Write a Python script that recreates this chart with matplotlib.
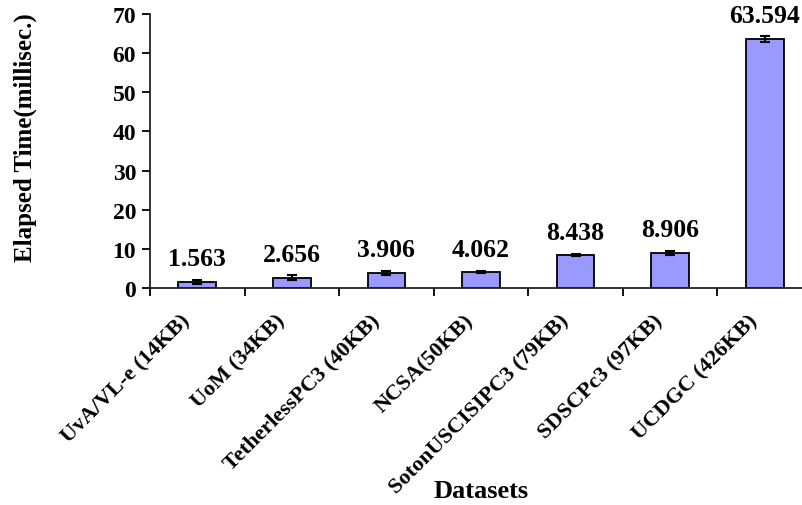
import matplotlib
matplotlib.use("Agg")
import matplotlib.pyplot as plt
import matplotlib.transforms as mtransforms
import numpy as np

categories = ["UvA/VL-e (14KB)", "UoM (34KB)", "TetherlessPC3 (40KB)", "NCSA(50KB)",
              "SotonUSCISIPC3 (79KB)", "SDSCPc3 (97KB)", "UCDGC (426KB)"]
values = [1.563, 2.656, 3.906, 4.062, 8.438, 8.906, 63.594]
errors = [0.6, 0.6, 0.5, 0.3, 0.3, 0.5, 0.7]
value_labels = ["1.563", "2.656", "3.906", "4.062", "8.438", "8.906", "63.594"]
yticks = [0, 10, 20, 30, 40, 50, 60, 70]

plt.rcParams['font.family'] = ['Liberation Serif', 'DejaVu Serif']
plt.rcParams['font.weight'] = 'bold'

W, H = 803, 506
fig = plt.figure(figsize=(W/100, H/100), dpi=100)
left, right, top, bottom = 150, 812, 15, 289
ax = fig.add_axes([left/W, 1-bottom/H, (right-left)/W, (bottom-top)/H])

x = np.arange(len(categories))
ax.bar(x, values, width=0.40, color='#9999FF', edgecolor='black', linewidth=1.3, zorder=2)
ax.errorbar(x, values, yerr=errors, fmt='none', ecolor='black', elinewidth=1.5,
            capsize=3.8, capthick=1.5, zorder=3)

for xi, v, e, lab in zip(x, values, errors, value_labels):
    ax.annotate(lab, (xi, v+e), xytext=(0, 7), textcoords='offset points',
                ha='center', va='bottom', fontsize=18.5, fontweight='bold')

ax.set_xlim(-0.5, len(categories)-0.5)
ax.set_ylim(0, 70)
ax.set_yticks(yticks)
ax.set_yticklabels([str(t) for t in yticks], fontsize=17, fontweight='bold')
ax.tick_params(axis='y', direction='out', length=6, width=1.3, pad=4)

ax.set_xticks(x)
ax.set_xticklabels(categories, rotation=45, ha='right', va='top', rotation_mode='anchor',
                   fontsize=16, fontweight='bold')
ax.tick_params(axis='x', which='major', length=0, pad=16)
shift = mtransforms.ScaledTranslation(-17/100, 0, fig.dpi_scale_trans)
for lbl in ax.get_xticklabels():
    lbl.set_transform(lbl.get_transform() + shift)
ax.set_xticks(np.arange(-0.5, len(categories)), minor=True)
ax.tick_params(axis='x', which='minor', direction='out', length=6, width=1.3)

for s in ['top', 'right']:
    ax.spines[s].set_visible(False)
for s in ['left', 'bottom']:
    ax.spines[s].set_linewidth(1.3)
    ax.spines[s].set_color('#222222')

ax.set_ylabel("Elapsed Time(millisec.)", fontsize=18, fontweight='bold')
ax.yaxis.set_label_coords((37-left)/(right-left), (bottom-137.5)/(bottom-top))
fig.text((left+right)/2/W, 1-492/H, "Datasets", ha='center', va='center',
         fontsize=19, fontweight='bold')

fig.savefig("out.png", dpi=100)
